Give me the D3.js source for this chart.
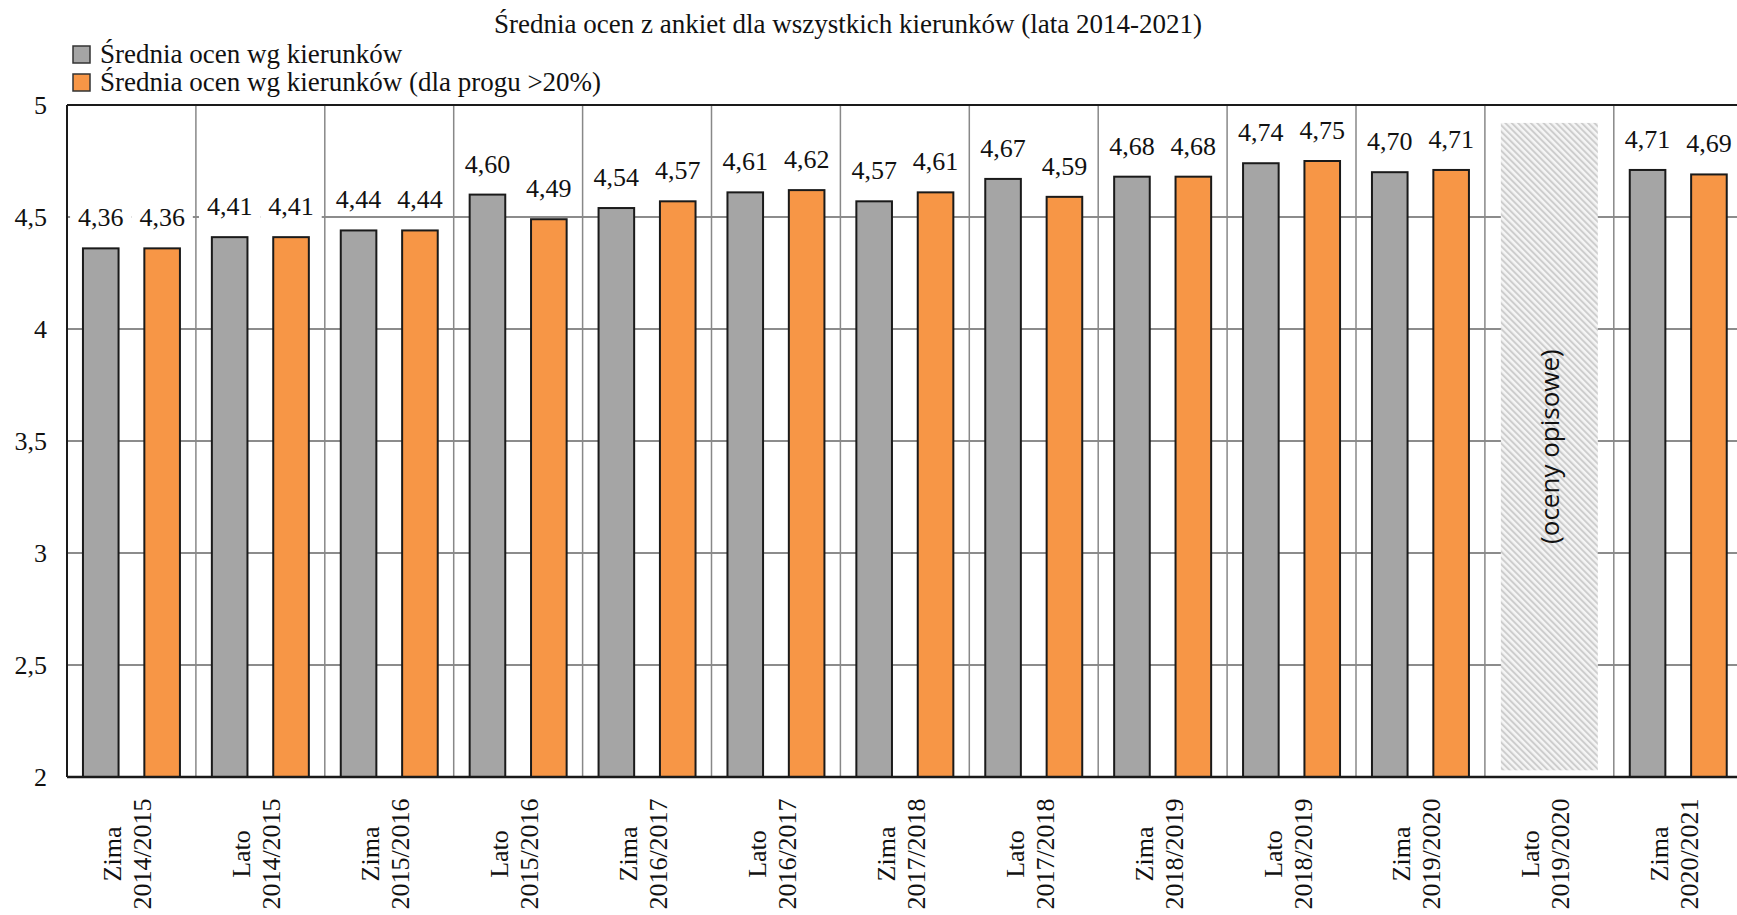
<!DOCTYPE html>
<html lang="pl">
<head>
<meta charset="utf-8">
<script src="https://cdn.jsdelivr.net/npm/d3@7"></script>
<style>
  html, body { margin: 0; padding: 0; background: #fff; }
  svg { display: block; }
  text { font-family: "Liberation Serif", "Times New Roman", serif; fill: #111; }
</style>
</head>
<body>
<svg id="chart" width="1737" height="915"></svg>
<script>
// Semesters (two-line labels: season / academic year)
const seasons = ["Zima", "Lato", "Zima", "Lato", "Zima", "Lato", "Zima", "Lato", "Zima", "Lato", "Zima", "Lato", "Zima"];
const years = ["2014/2015", "2014/2015", "2015/2016", "2015/2016", "2016/2017", "2016/2017",
               "2017/2018", "2017/2018", "2018/2019", "2018/2019", "2019/2020", "2019/2020", "2020/2021"];
const categories = seasons.map((s, i) => s + " " + years[i]);

// Average grade by field of study
const avgAll = [4.36, 4.41, 4.44, 4.60, 4.54, 4.61, 4.57, 4.67, 4.68, 4.74, 4.70, null, 4.71];
// Average grade by field of study (response threshold > 20%)
const avgThreshold = [4.36, 4.41, 4.44, 4.49, 4.57, 4.62, 4.61, 4.59, 4.68, 4.75, 4.71, null, 4.69];

const seriesNames = ["Średnia ocen wg kierunków", "Średnia ocen wg kierunków (dla progu >20%)"];
const seriesColors = ["#a5a5a5", "#f79646"];
const yTicks = [2, 2.5, 3, 3.5, 4, 4.5, 5];

// Semester graded descriptively (no numeric averages)
const noteCategory = "Lato 2019/2020";
const noteText = "(oceny opisowe)";
const noteRange = [2.03, 4.92];

const title = "Średnia ocen z ankiet dla wszystkich kierunków (lata 2014-2021)";

const fmt = v => d3.format(".2f")(v).replace(".", ",");
const fmtTick = v => String(v).replace(".", ",");

const svg = d3.select("#chart");

const plotLeft = 67, plotTop = 105, plotBottom = 777;
const groupWidth = 128.9;
const plotRight = plotLeft + groupWidth * categories.length;

const x0 = d3.scaleBand().domain(categories).range([plotLeft, plotRight]).padding(0);
const x1 = d3.scaleBand().domain([0, 1]).range([0, x0.bandwidth()]).paddingInner(0.42).paddingOuter(0.26);
const y = d3.scaleLinear().domain([2, 5]).range([plotBottom, plotTop]);

// Hatch pattern for the descriptive-grades semester
const defs = svg.append("defs");
const pat = defs.append("pattern")
  .attr("id", "hatch").attr("patternUnits", "userSpaceOnUse")
  .attr("width", 4.5).attr("height", 4.5)
  .attr("patternTransform", "rotate(-45)");
pat.append("rect").attr("width", 4.5).attr("height", 4.5).attr("fill", "#f5f5f5");
pat.append("rect").attr("width", 2).attr("height", 4.5).attr("fill", "#cdcdcd");

// Horizontal gridlines
svg.append("g")
  .selectAll("line")
  .data(yTicks.filter(t => t > 2 && t < 5))
  .join("line")
  .attr("x1", plotLeft).attr("x2", plotRight)
  .attr("y1", d => y(d)).attr("y2", d => y(d))
  .attr("stroke", "#666").attr("stroke-width", 1.5);

// Vertical separators between semesters
svg.append("g")
  .selectAll("line")
  .data(categories.slice(1))
  .join("line")
  .attr("x1", d => x0(d)).attr("x2", d => x0(d))
  .attr("y1", plotTop).attr("y2", plotBottom)
  .attr("stroke", "#888").attr("stroke-width", 1.5);

// Descriptive-grades box
const nx = x0(noteCategory) + x1(0);
const nw = x1(1) + x1.bandwidth() - x1(0);
svg.append("rect")
  .attr("x", nx).attr("width", nw)
  .attr("y", y(noteRange[1])).attr("height", y(noteRange[0]) - y(noteRange[1]))
  .attr("fill", "url(#hatch)");
svg.append("text")
  .attr("transform", `translate(${nx + nw / 2},${(y(noteRange[0]) + y(noteRange[1])) / 2}) rotate(-90)`)
  .attr("text-anchor", "middle").attr("dominant-baseline", "central")
  .style("font-family", "'Open Sans', 'DejaVu Sans', sans-serif")
  .style("font-size", "26px").style("fill", "#111")
  .text(noteText);

// Bars
const rows = categories.map((c, i) => ({ c, vals: [avgAll[i], avgThreshold[i]] }));
const barData = rows.flatMap(r => r.vals.map((v, s) => ({ c: r.c, s, v }))).filter(d => d.v != null);

svg.append("g")
  .selectAll("rect")
  .data(barData)
  .join("rect")
  .attr("x", d => x0(d.c) + x1(d.s))
  .attr("width", x1.bandwidth())
  .attr("y", d => y(d.v))
  .attr("height", d => y(2) - y(d.v))
  .attr("fill", d => seriesColors[d.s])
  .attr("stroke", "#1a1a1a").attr("stroke-width", 2);

// Value labels with white backing
const labels = svg.append("g");
labels.selectAll("rect")
  .data(barData)
  .join("rect")
  .attr("x", d => x0(d.c) + x1(d.s) + x1.bandwidth() / 2 - x1.step() / 2)
  .attr("width", x1.step())
  .attr("y", d => y(d.v) - 22 - 24)
  .attr("height", 30)
  .attr("fill", "#fff");
labels.selectAll("text")
  .data(barData)
  .join("text")
  .attr("x", d => x0(d.c) + x1(d.s) + x1.bandwidth() / 2)
  .attr("y", d => y(d.v) - 22)
  .attr("text-anchor", "middle")
  .style("font-size", "26px")
  .text(d => fmt(d.v));

// Frame: top, left, bottom
svg.append("line").attr("x1", plotLeft).attr("x2", plotRight).attr("y1", plotTop).attr("y2", plotTop)
  .attr("stroke", "#1a1a1a").attr("stroke-width", 2);
svg.append("line").attr("x1", plotLeft).attr("x2", plotRight).attr("y1", plotBottom).attr("y2", plotBottom)
  .attr("stroke", "#1a1a1a").attr("stroke-width", 2.5);
svg.append("line").attr("x1", plotLeft).attr("x2", plotLeft).attr("y1", plotTop).attr("y2", plotBottom)
  .attr("stroke", "#1a1a1a").attr("stroke-width", 2);

// Y axis labels
const yAxis = d3.axisLeft(y).tickValues(yTicks).tickFormat(fmtTick).tickSize(0).tickPadding(20);
const yg = svg.append("g").attr("transform", `translate(${plotLeft},0)`).call(yAxis);
yg.select(".domain").remove();
yg.selectAll("text")
  .style("font-family", "'Liberation Serif', 'Times New Roman', serif")
  .style("font-size", "26px").attr("fill", "#111");

// X axis labels (rotated, two lines)
const xl = svg.append("g")
  .selectAll("text")
  .data(categories)
  .join("text")
  .attr("transform", d => `translate(${x0(d) + x0.bandwidth() / 2},854) rotate(-90)`)
  .attr("text-anchor", "middle")
  .style("font-size", "26px");
xl.append("tspan").attr("x", 0).attr("y", -10).text((d, i) => seasons[i]);
xl.append("tspan").attr("x", 0).attr("y", 20).text((d, i) => years[i]);

// Title
svg.append("text")
  .attr("x", 848).attr("y", 33)
  .attr("text-anchor", "middle")
  .style("font-size", "27px")
  .text(title);

// Legend
const lg = svg.append("g");
seriesNames.forEach((name, i) => {
  lg.append("rect")
    .attr("x", 73).attr("y", 46 + i * 28).attr("width", 17).attr("height", 17)
    .attr("fill", seriesColors[i]).attr("stroke", "#333").attr("stroke-width", 1.5);
  lg.append("text")
    .attr("x", 100).attr("y", 63 + i * 28)
    .style("font-size", "27px")
    .text(name);
});
</script>
</body>
</html>
